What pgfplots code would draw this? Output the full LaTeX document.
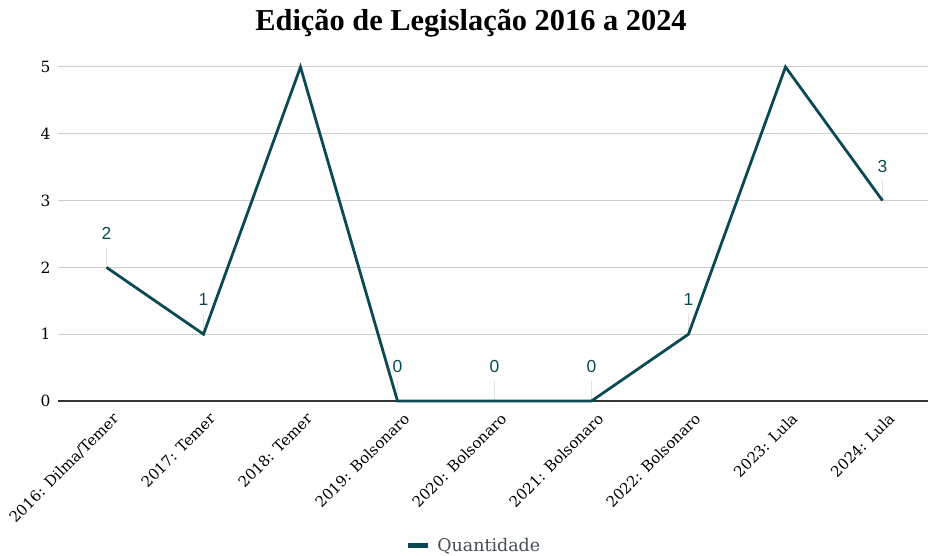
\documentclass[border=0pt]{standalone}
\usepackage{fontspec}
\setmainfont{DejaVu Serif}
\newfontfamily\titlefont{Liberation Serif}
\newfontfamily\labelfont{Liberation Sans}
\usepackage{pgfplots}
\pgfplotsset{compat=1.18}
\definecolor{lineteal}{RGB}{11,74,84}
\definecolor{gridgray}{RGB}{204,204,204}
\definecolor{leadgray}{RGB}{225,225,225}
\definecolor{axisdark}{RGB}{51,51,51}
\definecolor{legendgray}{RGB}{68,78,84}
\begin{document}
\begin{tikzpicture}[x=1bp,y=1bp]
\begin{axis}[
  at={(58bp,155bp)}, anchor=south west,
  scale only axis, width=873bp, height=334bp,
  xmin=-0.5, xmax=8.5, ymin=0, ymax=5,
  clip=false,
  axis line style={draw=none},
  major tick style={draw=none},
  ymajorgrids,
  grid style={gridgray, line width=1bp},
  xtick={0,...,8},
  xticklabels={2016: Dilma/Temer,2017: Temer,2018: Temer,2019: Bolsonaro,2020: Bolsonaro,2021: Bolsonaro,2022: Bolsonaro,2023: Lula,2024: Lula},
  x tick label style={rotate=45, anchor=north east, xshift=-2bp, yshift=-9bp, font=\fontsize{15}{15}\selectfont, text=black, inner sep=2bp},
  ytick={0,...,5},
  y tick label style={font=\fontsize{15.5}{15.5}\selectfont, text=black, xshift=-4bp},
  /pgf/number format/assume math mode=true,
  extra y ticks={0},
  extra y tick labels={},
  extra y tick style={grid style={axisdark, line width=1.3bp}},
  legend style={at={(0.4765,-0.434)}, anchor=center, draw=none, fill=none,
    font=\fontsize{17.5}{17.5}\selectfont, text=legendgray},
  legend image code/.code={\path[draw=none] (0bp,0bp) -- (27bp,0bp);\draw[line width=5bp,#1] (0bp,0bp) -- (20bp,0bp);},
]
\addplot[draw=none, mark=none, forget plot,
  error bars/.cd, y dir=plus, y fixed=0.3, error mark=none,
  error bar style={draw=leadgray, line width=0.8bp}]
  coordinates {(0,2)(1,1)(3,0)(4,0)(5,0)(6,1)(8,3)};
\addplot[draw=none, mark=none, forget plot,
  nodes near coords, point meta=y,
  nodes near coords style={font=\labelfont\fontsize{17.5}{17.5}\selectfont, text=lineteal, anchor=south, inner sep=0pt, yshift=28bp, /pgf/number format/int detect}]
  coordinates {(0,2)(1,1)(3,0)(4,0)(5,0)(6,1)(8,3)};
\addplot[lineteal, line width=2.8bp, mark=none, line join=miter]
  coordinates {(0,2)(1,1)(2,5)(3,0)(4,0)(5,0)(6,1)(7,5)(8,3)};
\addlegendentry{Quantidade}
\end{axis}
\node[font=\titlefont\bfseries\fontsize{30.5}{30.5}\selectfont] at (471,533) {Edição de Legislação 2016 a 2024};
\pgfresetboundingbox
\useasboundingbox (0,0) rectangle (928,556);
\end{tikzpicture}
\end{document}
